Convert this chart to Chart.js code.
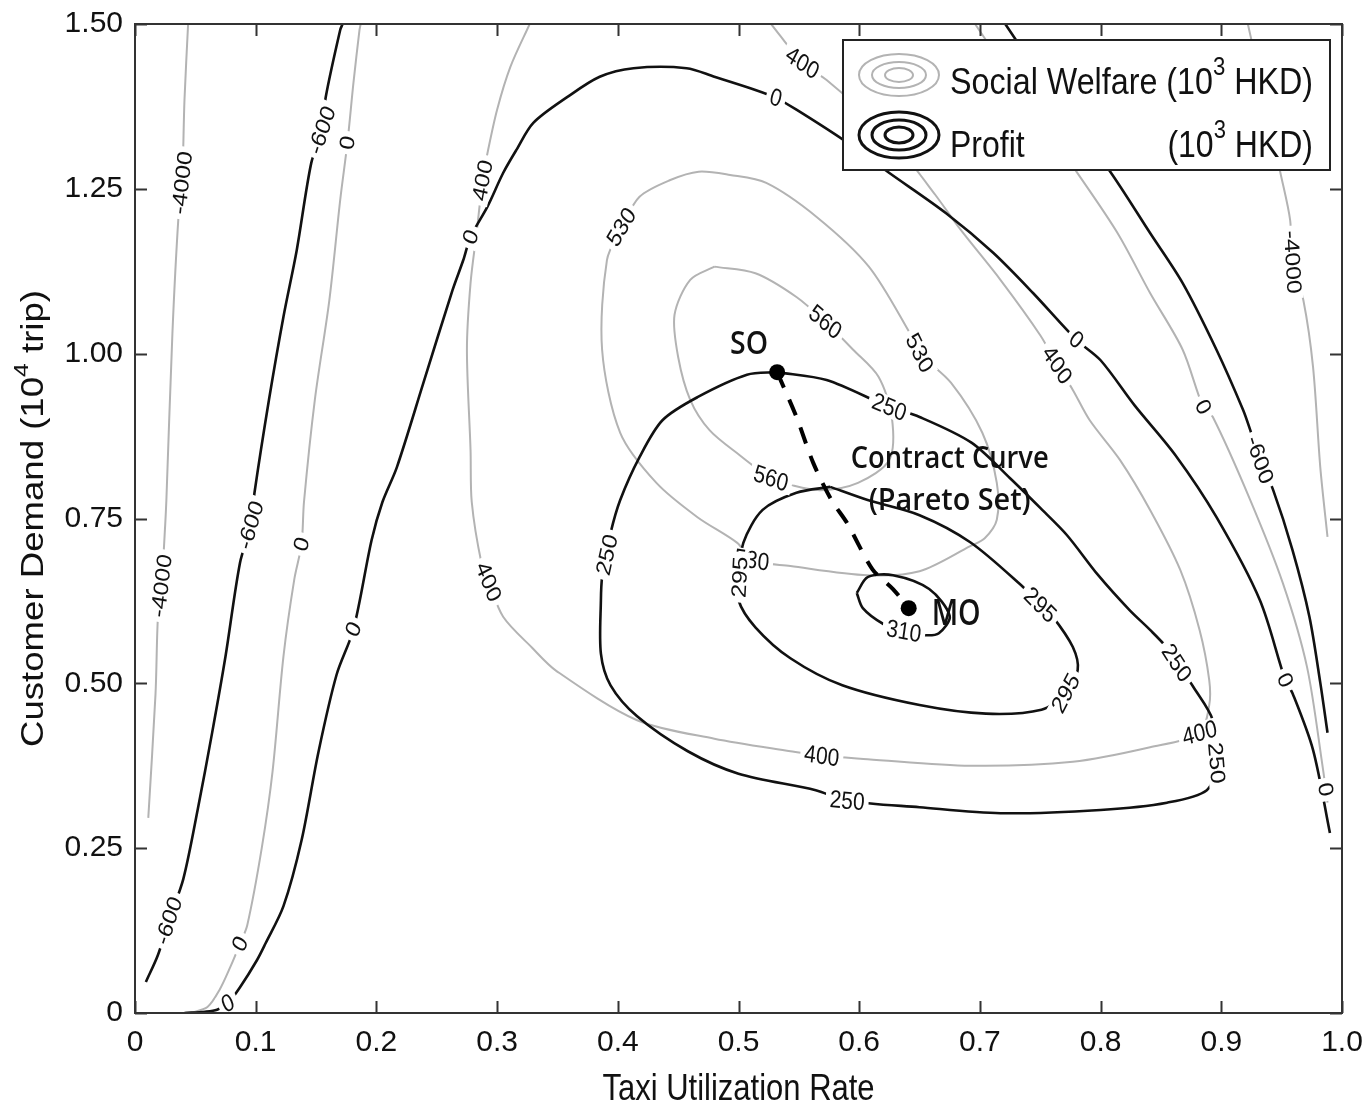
<!DOCTYPE html>
<html lang="en">
<head>
<meta charset="UTF-8">
<title>Social Welfare and Profit Contours</title>
<script src="https://cdn.jsdelivr.net/npm/chart.js"></script>
<style>
  body { margin: 0; background: #fff; }
  #wrap { width: 1365px; height: 1105px; }
</style>
</head>
<body>
<div id="wrap"><canvas id="contourChart" width="1365" height="1105"></canvas></div>
<script>
// tick labels
const xTickLabels = ['0', '0.1', '0.2', '0.3', '0.4', '0.5', '0.6', '0.7', '0.8', '0.9', '1.0'];
const yTickLabels = ['0', '0.25', '0.50', '0.75', '1.00', '1.25', '1.50'];

// contour paths, [utilization rate, demand]
const welfareNeg4000Left = [[0.011,0.296],[0.017,0.484],[0.019,0.601],[0.022,0.648],[0.025,0.740],[0.026,0.778],[0.031,1.031],[0.036,1.207],[0.039,1.259],[0.041,1.385],[0.044,1.5]];
const profitNeg600Left = [[0.009,0.047],[0.019,0.088],[0.028,0.140],[0.040,0.203],[0.052,0.309],[0.064,0.426],[0.075,0.541],[0.087,0.683],[0.096,0.740],[0.099,0.789],[0.111,0.930],[0.123,1.056],[0.134,1.157],[0.146,1.289],[0.155,1.339],[0.158,1.389],[0.170,1.491],[0.172,1.5]];
const welfareZeroLeft = [[0.046,0],[0.060,0.009],[0.070,0.035],[0.079,0.070],[0.087,0.105],[0.093,0.133],[0.105,0.250],[0.114,0.367],[0.123,0.541],[0.132,0.658],[0.138,0.711],[0.140,0.775],[0.149,0.930],[0.161,1.081],[0.170,1.233],[0.176,1.320],[0.181,1.411],[0.186,1.491],[0.187,1.5]];
const profitZero = [[0.041,0],[0.058,0.002],[0.068,0.005],[0.077,0.015],[0.087,0.039],[0.101,0.080],[0.108,0.105],[0.123,0.162],[0.138,0.262],[0.152,0.396],[0.167,0.513],[0.181,0.582],[0.196,0.717],[0.205,0.775],[0.217,0.828],[0.239,0.956],[0.263,1.096],[0.272,1.142],[0.278,1.177],[0.292,1.223],[0.305,1.274],[0.316,1.309],[0.330,1.350],[0.358,1.389],[0.385,1.420],[0.413,1.433],[0.457,1.433],[0.480,1.420],[0.514,1.400],[0.531,1.388],[0.548,1.370],[0.587,1.324],[0.625,1.274],[0.672,1.213],[0.711,1.153],[0.744,1.092],[0.780,1.021],[0.800,0.990],[0.828,0.922],[0.862,0.846],[0.896,0.752],[0.932,0.626],[0.953,0.505],[0.959,0.485],[0.976,0.399],[0.990,0.273]];
const welfare400 = [[0.327,1.5],[0.311,1.435],[0.300,1.370],[0.292,1.304],[0.288,1.263],[0.283,1.183],[0.278,1.107],[0.275,1.006],[0.278,0.854],[0.279,0.775],[0.287,0.683],[0.293,0.654],[0.305,0.601],[0.329,0.554],[0.349,0.519],[0.416,0.444],[0.480,0.416],[0.543,0.397],[0.569,0.390],[0.607,0.385],[0.692,0.375],[0.777,0.381],[0.841,0.403],[0.882,0.425],[0.890,0.467],[0.890,0.505],[0.882,0.581],[0.866,0.672],[0.841,0.763],[0.816,0.839],[0.791,0.899],[0.777,0.945],[0.764,0.983],[0.750,1.028],[0.717,1.112],[0.684,1.188],[0.663,1.241],[0.634,1.309],[0.601,1.370],[0.573,1.415],[0.553,1.441],[0.527,1.5]];
const welfare530 = [[0.403,1.192],[0.418,1.238],[0.443,1.263],[0.467,1.276],[0.493,1.271],[0.523,1.259],[0.565,1.207],[0.608,1.132],[0.642,1.031],[0.650,1.001],[0.676,0.956],[0.702,0.880],[0.714,0.804],[0.714,0.748],[0.704,0.720],[0.692,0.708],[0.650,0.670],[0.607,0.664],[0.543,0.678],[0.511,0.687],[0.499,0.713],[0.466,0.752],[0.432,0.804],[0.402,0.880],[0.387,1.006],[0.391,1.142],[0.403,1.192]];
const welfare560 = [[0.480,1.132],[0.514,1.122],[0.548,1.086],[0.572,1.048],[0.595,1.006],[0.616,0.965],[0.627,0.904],[0.625,0.839],[0.599,0.804],[0.568,0.793],[0.543,0.801],[0.527,0.811],[0.501,0.846],[0.476,0.884],[0.460,0.930],[0.450,0.995],[0.447,1.059],[0.460,1.112],[0.480,1.132]];
const profit250 = [[0.532,0.972],[0.573,0.960],[0.625,0.919],[0.650,0.904],[0.693,0.865],[0.725,0.811],[0.750,0.766],[0.772,0.725],[0.798,0.664],[0.824,0.611],[0.841,0.581],[0.855,0.554],[0.863,0.531],[0.877,0.494],[0.893,0.444],[0.896,0.379],[0.888,0.338],[0.855,0.319],[0.800,0.308],[0.717,0.303],[0.650,0.312],[0.590,0.322],[0.564,0.338],[0.500,0.363],[0.458,0.397],[0.416,0.450],[0.394,0.497],[0.386,0.545],[0.386,0.626],[0.387,0.661],[0.391,0.695],[0.394,0.728],[0.402,0.778],[0.418,0.843],[0.437,0.899],[0.466,0.934],[0.507,0.968],[0.532,0.972]];
const profit295 = [[0.576,0.798],[0.607,0.778],[0.650,0.755],[0.692,0.714],[0.734,0.649],[0.750,0.619],[0.760,0.602],[0.777,0.555],[0.781,0.520],[0.771,0.485],[0.751,0.460],[0.705,0.454],[0.650,0.467],[0.586,0.497],[0.543,0.538],[0.514,0.585],[0.500,0.626],[0.501,0.661],[0.504,0.713],[0.520,0.763],[0.548,0.789],[0.576,0.798]];
const profit310 = [[0.598,0.637],[0.607,0.661],[0.628,0.664],[0.658,0.643],[0.675,0.602],[0.666,0.576],[0.654,0.573],[0.637,0.579],[0.620,0.590],[0.603,0.614],[0.598,0.637]];
const welfareZeroRight = [[0.696,1.5],[0.733,1.400],[0.780,1.276],[0.814,1.183],[0.841,1.092],[0.868,1.006],[0.885,0.919],[0.893,0.904],[0.924,0.778],[0.951,0.652],[0.971,0.525],[0.984,0.373],[0.988,0.319]];
const profitNeg600Right = [[0.721,1.5],[0.758,1.4],[0.808,1.276],[0.841,1.183],[0.868,1.107],[0.896,1.006],[0.918,0.915],[0.924,0.884],[0.932,0.839],[0.943,0.793],[0.959,0.702],[0.973,0.601],[0.982,0.501],[0.988,0.425]];
const welfareNeg4000Right = [[0.922,1.5],[0.936,1.385],[0.949,1.274],[0.957,1.203],[0.959,1.139],[0.968,1.081],[0.976,0.980],[0.982,0.828],[0.988,0.722]];

// contract curve and the two optima
const contractCurve = [[0.532,0.972],[0.548,0.904],[0.562,0.834],[0.577,0.778],[0.590,0.743],[0.611,0.673],[0.628,0.643],[0.641,0.614]];
const optimumNames = ['SO', 'MO'];
const optimumPoints = [[0.532,0.972],[0.641,0.614]];

// where each contour carries its level label
const welfareNeg4000LeftLabels = [[0.022,0.648],[0.039,1.259]];
const profitNeg600LeftLabels = [[0.028,0.140],[0.096,0.740],[0.155,1.339]];
const welfareZeroLeftLabels = [[0.087,0.105],[0.138,0.711],[0.176,1.320]];
const profitZeroLabels = [[0.077,0.015],[0.181,0.582],[0.278,1.177],[0.531,1.388],[0.780,1.021],[0.953,0.505]];
const welfare400Labels = [[0.288,1.263],[0.293,0.654],[0.569,0.390],[0.882,0.425],[0.764,0.983],[0.553,1.441]];
const welfare530Labels = [[0.403,1.192],[0.650,1.001],[0.511,0.687]];
const welfare560Labels = [[0.572,1.048],[0.527,0.811]];
const profit250Labels = [[0.625,0.919],[0.863,0.531],[0.896,0.379],[0.590,0.322],[0.391,0.695]];
const profit295Labels = [[0.750,0.619],[0.771,0.485],[0.501,0.661]];
const profit310Labels = [[0.637,0.579]];
const welfareZeroRightLabels = [[0.885,0.919],[0.983,0.338]];
const profitNeg600RightLabels = [[0.932,0.839]];
const welfareNeg4000RightLabels = [[0.959,1.139]];

// kind, level, path, label spots
const contours = [
  ['welfare', '-4000', welfareNeg4000Left, welfareNeg4000LeftLabels],
  ['welfare', '0', welfareZeroLeft, welfareZeroLeftLabels],
  ['welfare', '400', welfare400, welfare400Labels],
  ['welfare', '530', welfare530, welfare530Labels],
  ['welfare', '560', welfare560, welfare560Labels],
  ['welfare', '0', welfareZeroRight, welfareZeroRightLabels],
  ['welfare', '-4000', welfareNeg4000Right, welfareNeg4000RightLabels],
  ['profit', '-600', profitNeg600Left, profitNeg600LeftLabels],
  ['profit', '0', profitZero, profitZeroLabels],
  ['profit', '250', profit250, profit250Labels],
  ['profit', '295', profit295, profit295Labels],
  ['profit', '310', profit310, profit310Labels],
  ['profit', '-600', profitNeg600Right, profitNeg600RightLabels]
];

const GRAY = '#b3b3b3';
const INK = '#111';
const FONT = "'Liberation Sans', Arial, sans-serif";
const S = 1.18; // the source figure is a bit stretched vertically

const toXY = arr => arr.map(p => ({ x: p[0], y: p[1] }));

const datasets = contours.map(([kind, level, path]) => ({
  label: kind + ' ' + level,
  data: toXY(path),
  showLine: true,
  pointRadius: 0,
  borderColor: kind === 'welfare' ? GRAY : INK,
  borderWidth: kind === 'welfare' ? 2 : 2.6,
  tension: 0.3,
  order: kind === 'welfare' ? 3 : 2
}));
datasets.push({
  label: 'Contract Curve',
  data: toXY(contractCurve),
  showLine: true,
  pointRadius: 0,
  borderColor: '#000',
  borderWidth: 4,
  borderDash: [17, 13],
  tension: 0.3,
  order: 1
});
datasets.push({
  label: 'Optima',
  data: toXY(optimumPoints),
  showLine: false,
  pointRadius: 8,
  pointBackgroundColor: '#000',
  pointBorderWidth: 0,
  order: 0
});

// text with optional superscripts, stretched like the source
function drawRich(ctx, segs, x, y, o) {
  const size = o.size, fam = o.family || FONT, wt = o.weight || 'normal';
  const supSize = Math.round(size * 0.68);
  const fontOf = sup => `${wt} ${sup ? supSize : size}px ${fam}`;
  ctx.save();
  ctx.translate(x, y);
  if (o.rotate) { ctx.rotate(o.rotate); ctx.scale(S, 1); } else ctx.scale(1, S);
  let total = 0;
  segs.forEach(s => { ctx.font = fontOf(s[1]); total += ctx.measureText(s[0]).width; });
  if (o.fit) ctx.scale(o.fit / total, 1);
  let cx = o.align === 'center' ? -total / 2 : o.align === 'right' ? -total : 0;
  ctx.fillStyle = o.color || INK;
  ctx.textAlign = 'left';
  ctx.textBaseline = 'alphabetic';
  segs.forEach(s => {
    ctx.font = fontOf(s[1]);
    ctx.fillText(s[0], cx, s[1] ? -size * 0.5 : 0);
    cx += ctx.measureText(s[0]).width;
  });
  ctx.restore();
}

const contourDecor = {
  id: 'contourDecor',
  afterDatasetsDraw(chart) {
    const { ctx, chartArea: a, scales: { x, y } } = chart;
    ctx.save();
    ctx.beginPath();
    ctx.rect(a.left, a.top, a.right - a.left, a.bottom - a.top);
    ctx.clip();
    ctx.font = `21px ${FONT}`;
    ctx.textAlign = 'center';
    ctx.textBaseline = 'middle';
    contours.forEach(([kind, level, path, spots]) => {
      const pts = path.map(p => [x.getPixelForValue(p[0]), y.getPixelForValue(p[1])]);
      spots.forEach(s => {
        const sx = x.getPixelForValue(s[0]), sy = y.getPixelForValue(s[1]);
        let best = null;
        for (let i = 0; i < pts.length - 1; i++) {
          const [x1, y1] = pts[i], [x2, y2] = pts[i + 1];
          const dx = x2 - x1, dy = y2 - y1, len2 = dx * dx + dy * dy || 1;
          let t = ((sx - x1) * dx + (sy - y1) * dy) / len2;
          t = Math.max(0, Math.min(1, t));
          const px = x1 + t * dx, py = y1 + t * dy;
          const d = (px - sx) ** 2 + (py - sy) ** 2;
          if (!best || d < best.d) best = { d, px, py, dx, dy };
        }
        let ang = Math.atan2(best.dy / S, best.dx);
        if (ang > Math.PI / 2) ang -= Math.PI;
        if (ang < -Math.PI / 2) ang += Math.PI;
        ctx.save();
        ctx.translate(best.px, best.py);
        ctx.scale(1, S);
        ctx.rotate(ang);
        const w = ctx.measureText(level).width;
        ctx.fillStyle = '#fff';
        ctx.fillRect(-w / 2 - 4, -9, w + 8, 18);
        ctx.fillStyle = INK;
        ctx.fillText(level, 0, 1);
        ctx.restore();
      });
    });
    ctx.restore();

    // annotations
    const note = { family: "'Open Sans', 'Noto Sans', sans-serif", weight: '600' };
    const so = optimumPoints[0], mo = optimumPoints[1];
    const sox = x.getPixelForValue(so[0]), soy = y.getPixelForValue(so[1]);
    const mox = x.getPixelForValue(mo[0]), moy = y.getPixelForValue(mo[1]);
    drawRich(ctx, [[optimumNames[0]]], sox - 28, soy - 18, { ...note, size: 27, align: 'center', fit: 38 });
    drawRich(ctx, [[optimumNames[1]]], mox + 23, moy + 17, { ...note, size: 30, fit: 49 });
    drawRich(ctx, [['Contract Curve']], mox + 41, moy - 140, { ...note, size: 26, align: 'center', fit: 198 });
    drawRich(ctx, [['(Pareto Set)']], mox + 41, moy - 98, { ...note, size: 26, align: 'center', fit: 162 });
  },
  afterDraw(chart) {
    const { ctx, chartArea: a, scales: { x, y } } = chart;
    ctx.save();
    // box and inward ticks on all four sides
    ctx.strokeStyle = '#333';
    ctx.lineWidth = 2;
    ctx.strokeRect(a.left, a.top, a.right - a.left, a.bottom - a.top);
    ctx.beginPath();
    x.ticks.forEach(t => {
      const px = Math.round(x.getPixelForValue(t.value)) + 0.5;
      ctx.moveTo(px, a.bottom); ctx.lineTo(px, a.bottom - 12);
      ctx.moveTo(px, a.top); ctx.lineTo(px, a.top + 12);
    });
    y.ticks.forEach(t => {
      const py = Math.round(y.getPixelForValue(t.value)) + 0.5;
      ctx.moveTo(a.left, py); ctx.lineTo(a.left + 12, py);
      ctx.moveTo(a.right, py); ctx.lineTo(a.right - 12, py);
    });
    ctx.stroke();

    // legend
    const w = 487, h = 130, right = a.right - 12, top = a.top + 16, left = right - w;
    ctx.fillStyle = '#fff';
    ctx.fillRect(left, top, w, h);
    ctx.strokeStyle = '#222';
    ctx.lineWidth = 2;
    ctx.strokeRect(left, top, w, h);
    const rings = (cy, color, lw, radii) => {
      ctx.strokeStyle = color;
      ctx.lineWidth = lw;
      radii.forEach(([rx, ry]) => {
        ctx.beginPath();
        ctx.ellipse(left + 56, cy, rx, ry, 0, 0, 2 * Math.PI);
        ctx.stroke();
      });
    };
    rings(top + 35, GRAY, 2, [[40, 21], [27, 13], [14, 7]]);
    rings(top + 95, INK, 3, [[40, 23], [27, 15], [14, 8]]);
    drawRich(ctx, [['Social Welfare (10'], ['3', true], [' HKD)']], left + 107, top + 54, { size: 32, fit: 363 });
    drawRich(ctx, [['Profit']], left + 107, top + 117, { size: 32 });
    drawRich(ctx, [['(10'], ['3', true], [' HKD)']], right - 17, top + 117, { size: 32, align: 'right' });

    // axis titles
    drawRich(ctx, [['Taxi Utilization Rate']], (a.left + a.right) / 2, 1100, { size: 31, align: 'center' });
    drawRich(ctx, [['Customer Demand (10'], ['4', true], [' trip)']], 43, (a.top + a.bottom) / 2, { size: 31, align: 'center', rotate: -Math.PI / 2 });
    ctx.restore();
  }
};

new Chart(document.getElementById('contourChart'), {
  type: 'scatter',
  data: { datasets },
  options: {
    responsive: false,
    animation: false,
    events: [],
    layout: { padding: { top: 24, right: 23, left: 0, bottom: 0 } },
    plugins: { legend: { display: false }, tooltip: { enabled: false } },
    scales: {
      x: {
        type: 'linear',
        min: 0,
        max: 1,
        afterFit: s => { s.height = 92; s.paddingLeft = 0; s.paddingRight = 0; },
        grid: { display: false, drawTicks: false },
        border: { display: true, color: '#333', width: 2 },
        ticks: {
          stepSize: 0.1,
          maxRotation: 0,
          autoSkip: false,
          padding: 12,
          color: INK,
          font: { family: FONT, size: 30 },
          callback: (v, i) => xTickLabels[i]
        }
      },
      y: {
        type: 'linear',
        min: 0,
        max: 1.5,
        afterFit: s => { s.width = 135; s.paddingTop = 0; s.paddingBottom = 0; },
        grid: { display: false, drawTicks: false },
        border: { display: true, color: '#333', width: 2 },
        ticks: {
          stepSize: 0.25,
          autoSkip: false,
          padding: 12,
          color: INK,
          font: { family: FONT, size: 30 },
          callback: (v, i) => yTickLabels[i]
        }
      }
    }
  },
  plugins: [contourDecor]
});
</script>
</body>
</html>
